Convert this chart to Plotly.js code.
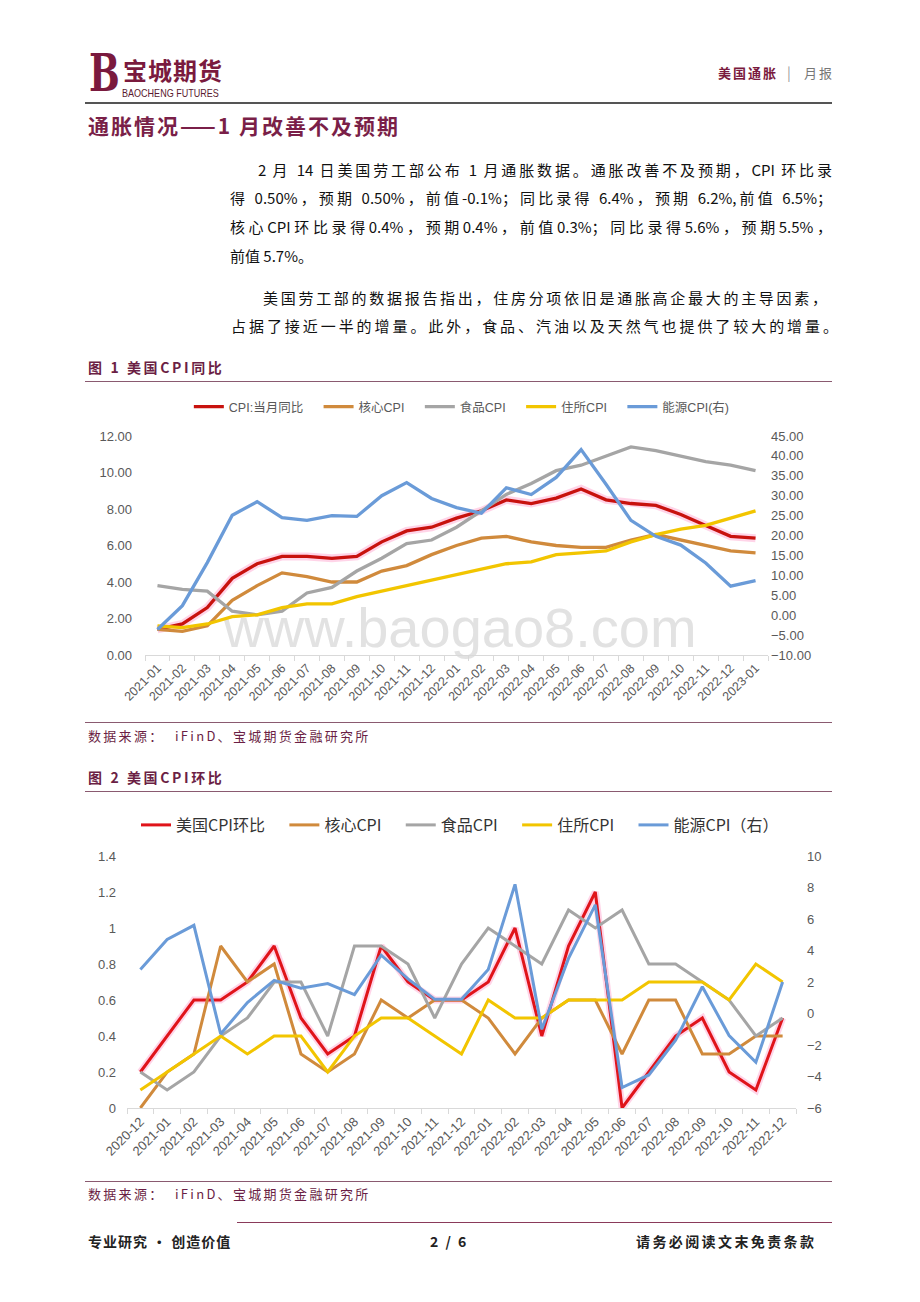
<!DOCTYPE html>
<html><head><meta charset="utf-8">
<script src="https://cdn.plot.ly/plotly-3.0.1.min.js"></script>
<style>
body{margin:0;background:#fff;width:920px;height:1302px;position:relative;overflow:hidden;font-family:"Noto Sans CJK SC",sans-serif;}
.abs{position:absolute;white-space:nowrap;}
.hl{position:absolute;height:0;}
.pl{position:absolute;font-size:15px;line-height:20px;height:20px;color:#111;text-align:justify;text-align-last:justify;overflow:visible;}
.cap{position:absolute;left:88px;font-size:14px;font-weight:700;color:#6b1f45;letter-spacing:2.6px;line-height:18px;}
.src{position:absolute;left:88px;font-size:13px;color:#6b1f45;letter-spacing:2.3px;line-height:18px;}
#wm{position:absolute;left:0;width:920px;text-align:center;top:600px;font-family:"Liberation Sans",Arial,sans-serif;font-size:56px;line-height:56px;color:#e2e2e2;}
.chart{position:absolute;left:0;width:920px;}
</style></head><body>
<!-- header -->
<div class="abs" style="left:89px;top:45px;font-family:'DejaVu Serif',serif;font-weight:700;font-size:52px;line-height:56px;color:#7a1a3e;transform:scaleX(0.7);transform-origin:left center;">B</div>
<div class="abs" style="left:123px;top:55px;font-size:24px;line-height:30px;font-weight:700;color:#7a1a3e;letter-spacing:1px;">宝城期货</div>
<div class="abs" style="left:122px;top:87px;font-family:'Liberation Sans',sans-serif;font-size:10.5px;line-height:12px;color:#5a1a30;transform:scaleX(0.86);transform-origin:left center;">BAOCHENG FUTURES</div>
<div class="abs" style="left:718px;top:64px;font-size:13px;line-height:18px;font-weight:700;color:#7a1a3e;letter-spacing:2px;">美国通胀</div>
<div class="abs" style="left:787px;top:63px;font-size:14px;line-height:18px;color:#999;">|</div>
<div class="abs" style="left:804px;top:64px;font-size:13px;line-height:18px;color:#777;letter-spacing:2px;">月报</div>
<div class="hl" style="left:85px;top:102px;width:747px;border-top:2px solid #555;"></div>
<div class="abs" style="left:88px;top:112px;font-size:21px;line-height:26px;font-weight:700;color:#7a1f48;letter-spacing:2px;">通胀情况——1 月改善不及预期</div>
<!-- paragraphs -->
<div class="pl" style="left:258px;width:574px;top:160px;">2 月 14 日美国劳工部公布 1 月通胀数据。通胀改善不及预期，CPI 环比录</div>
<div class="pl" style="left:230px;width:602px;top:188px;">得 0.50%，预期 0.50%，前值-0.1%；同比录得 6.4%，预期 6.2%,前值 6.5%；</div>
<div class="pl" style="left:230px;width:602px;top:217px;">核心CPI环比录得0.4%，预期0.4%，前值0.3%；同比录得5.6%，预期5.5%，</div>
<div class="pl" style="left:230px;top:246px;text-align:left;text-align-last:left;white-space:nowrap;">前值 5.7%。</div>
<div class="pl" style="left:263px;width:564px;top:288px;">美国劳工部的数据报告指出，住房分项依旧是通胀高企最大的主导因素，</div>
<div class="pl" style="left:231px;width:607px;top:316px;">占据了接近一半的增量。此外，食品、汽油以及天然气也提供了较大的增量。</div>
<!-- chart 1 -->
<div class="cap" style="top:358px;">图 1 美国CPI同比</div>
<div class="hl" style="left:85px;top:381px;width:747px;border-top:1px solid #8a5a70;"></div>
<div id="wm">www.baogao8.com</div>
<div id="c1" class="chart" style="top:395px;height:325px;"></div>
<div class="hl" style="left:85px;top:722px;width:747px;border-top:1px solid #8a5a70;"></div>
<div class="src" style="top:727px;">数据来源：&nbsp;&nbsp;iFinD、宝城期货金融研究所</div>
<!-- chart 2 -->
<div class="cap" style="top:768px;">图 2 美国CPI环比</div>
<div class="hl" style="left:85px;top:791px;width:747px;border-top:1px solid #8a5a70;"></div>
<div id="c2" class="chart" style="top:800px;height:375px;"></div>
<div class="hl" style="left:85px;top:1181px;width:747px;border-top:1px solid #8a5a70;"></div>
<div class="src" style="top:1185px;">数据来源：&nbsp;&nbsp;iFinD、宝城期货金融研究所</div>
<!-- footer -->
<div class="hl" style="left:237px;top:1222px;width:595px;border-top:1px solid #8a3a5a;"></div>
<div class="abs" style="left:88px;top:1231px;font-size:14px;line-height:20px;font-weight:700;color:#222;letter-spacing:1px;">专业研究 • 创造价值</div>
<div class="abs" style="left:430px;top:1231px;font-size:14px;line-height:20px;font-weight:700;color:#222;letter-spacing:2px;">2 / 6</div>
<div class="abs" style="left:636px;top:1231px;font-size:14px;line-height:20px;font-weight:700;color:#222;letter-spacing:2.4px;">请务必阅读文末免责条款</div>
<script>
// ---------- Chart 1 data (YoY, %) ----------
const months1 = ['2021-01','2021-02','2021-03','2021-04','2021-05','2021-06','2021-07','2021-08','2021-09','2021-10','2021-11','2021-12','2022-01','2022-02','2022-03','2022-04','2022-05','2022-06','2022-07','2022-08','2022-09','2022-10','2022-11','2022-12','2023-01'];
const cpiYoY     = [1.4,1.7,2.6,4.2,5.0,5.4,5.4,5.3,5.4,6.2,6.8,7.0,7.5,7.9,8.5,8.3,8.6,9.1,8.5,8.3,8.2,7.7,7.1,6.5,6.4];
const coreYoY    = [1.4,1.3,1.6,3.0,3.8,4.5,4.3,4.0,4.0,4.6,4.9,5.5,6.0,6.4,6.5,6.2,6.0,5.9,5.9,6.3,6.6,6.3,6.0,5.7,5.6];
const foodYoY    = [3.8,3.6,3.5,2.4,2.2,2.4,3.4,3.7,4.6,5.3,6.1,6.3,7.0,7.9,8.8,9.4,10.1,10.4,10.9,11.4,11.2,10.9,10.6,10.4,10.1];
const shelterYoY = [1.6,1.5,1.7,2.1,2.2,2.6,2.8,2.8,3.2,3.5,3.8,4.1,4.4,4.7,5.0,5.1,5.5,5.6,5.7,6.2,6.6,6.9,7.1,7.5,7.9];
const energyYoY  = [-3.6,2.4,13.2,25.1,28.5,24.5,23.8,25.0,24.8,30.0,33.3,29.3,27.0,25.6,32.0,30.3,34.6,41.6,32.9,23.8,19.8,17.6,13.1,7.3,8.7];
const names1 = ['CPI:当月同比','核心CPI','食品CPI','住所CPI','能源CPI(右)'];

// ---------- Chart 2 data (MoM, %) ----------
const months2 = ['2020-12','2021-01','2021-02','2021-03','2021-04','2021-05','2021-06','2021-07','2021-08','2021-09','2021-10','2021-11','2021-12','2022-01','2022-02','2022-03','2022-04','2022-05','2022-06','2022-07','2022-08','2022-09','2022-10','2022-11','2022-12'];
const cpiMoM     = [0.2,0.4,0.6,0.6,0.7,0.9,0.5,0.3,0.4,0.9,0.7,0.6,0.6,0.7,1.0,0.4,0.9,1.2,0.0,0.2,0.4,0.5,0.2,0.1,0.5];
const coreMoM    = [0.0,0.2,0.3,0.9,0.7,0.8,0.3,0.2,0.3,0.6,0.5,0.6,0.6,0.5,0.3,0.5,0.6,0.6,0.3,0.6,0.6,0.3,0.3,0.4,0.4];
const foodMoM    = [0.2,0.1,0.2,0.4,0.5,0.7,0.7,0.4,0.9,0.9,0.8,0.5,0.8,1.0,0.9,0.8,1.1,1.0,1.1,0.8,0.8,0.7,0.6,0.4,0.5];
const shelterMoM = [0.1,0.2,0.3,0.4,0.3,0.4,0.4,0.2,0.4,0.5,0.5,0.4,0.3,0.6,0.5,0.5,0.6,0.6,0.6,0.7,0.7,0.7,0.6,0.8,0.7];
const energyMoM  = [2.8,4.7,5.6,-1.3,0.7,2.1,1.6,1.9,1.2,3.7,2.2,0.9,0.9,2.8,8.2,-1.0,3.5,6.9,-4.7,-3.9,-1.7,1.7,-1.4,-3.1,2.0];
const names2 = ['美国CPI环比','核心CPI','食品CPI','住所CPI','能源CPI（右）'];

const colors = {red1:'#C8120E', red2:'#E0141A', orange:'#D08A3C', gray:'#A5A5A5', yellow:'#F2C500', blue:'#6A9BD8'};
const glow = 'rgba(255,160,205,0.45)';
const numFont = '"Liberation Sans Narrow","Liberation Sans","Noto Sans CJK SC",sans-serif';
const cjkFont = '"Noto Sans CJK SC",sans-serif';
const pad1 = '\u00a0\u00a0\u00a0';
const pad2 = '\u00a0\u00a0\u00a0\u00a0';

function ln(x, y, name, color, w, axis, show=true){
  return {x:x, y:y, name:name, type:'scatter', mode:'lines', yaxis:axis||'y',
    line:{color:color, width:w}, showlegend:show, hoverinfo:'skip'};
}

const t1 = [
  ln(months1, cpiYoY, '', glow, 8, 'y', false),
  ln(months1, cpiYoY, names1[0]+pad1, colors.red1, 3.3),
  ln(months1, coreYoY, names1[1]+pad1, colors.orange, 3.3),
  ln(months1, foodYoY, names1[2]+pad1, colors.gray, 3.3),
  ln(months1, shelterYoY, names1[3]+pad1, colors.yellow, 3.3),
  ln(months1, energyYoY, names1[4], colors.blue, 3.3, 'y2')
];
const axTick = {size:13, color:'#595959', family:numFont};
const l1 = {
  width:920, height:325,
  margin:{l:145, r:151.5, t:41, b:65},
  paper_bgcolor:'rgba(0,0,0,0)', plot_bgcolor:'rgba(0,0,0,0)',
  font:{family:cjkFont},
  showlegend:true,
  legend:{orientation:'h', xref:'container', yref:'container', x:0.502, xanchor:'center', y:1-12/325, yanchor:'middle',
    font:{size:12.5, color:'#595959', family:numFont}, bgcolor:'rgba(0,0,0,0)', traceorder:'normal'},
  xaxis:{type:'category', range:[-0.5,24.5], tickangle:-45, tickson:'boundaries', ticks:'outside',
    ticklen:5, tickcolor:'#d9d9d9', showline:true, linecolor:'#d9d9d9', linewidth:1, showgrid:false,
    tickfont:{size:12.5, color:'#595959', family:numFont}},
  yaxis:{range:[0,12], dtick:2, tickformat:'.2f', showgrid:false, zeroline:false, showline:false,
    tickfont:axTick, ticklabelstandoff:12},
  yaxis2:{overlaying:'y', side:'right', range:[-10,45], dtick:5, tickformat:'.2f', showgrid:false,
    zeroline:false, showline:false, tickfont:axTick, ticklabelstandoff:2}
};
Plotly.newPlot('c1', t1, l1, {staticPlot:true});

const t2 = [
  ln(months2, cpiMoM, '', glow, 7, 'y', false),
  ln(months2, cpiMoM, names2[0]+pad2, colors.red2, 3),
  ln(months2, coreMoM, names2[1]+pad2, colors.orange, 3),
  ln(months2, foodMoM, names2[2]+pad2, colors.gray, 3),
  ln(months2, shelterMoM, names2[3]+pad2, colors.yellow, 3),
  ln(months2, energyMoM, names2[4], colors.blue, 3, 'y2')
];
const axTick2 = {size:13, color:'#595959', family:numFont};
const l2 = {
  width:920, height:375,
  margin:{l:127, r:123.5, t:56, b:67},
  paper_bgcolor:'rgba(0,0,0,0)', plot_bgcolor:'rgba(0,0,0,0)',
  font:{family:cjkFont},
  showlegend:true,
  legend:{orientation:'h', xref:'container', yref:'container', x:0.5, xanchor:'center', y:1-25/375, yanchor:'middle',
    font:{size:16, color:'#333333', family:cjkFont}, bgcolor:'rgba(0,0,0,0)', traceorder:'normal'},
  xaxis:{type:'category', range:[-0.5,24.5], tickangle:-45, tickson:'boundaries', ticks:'outside',
    ticklen:5, tickcolor:'#d9d9d9', showline:true, linecolor:'#d9d9d9', linewidth:1, showgrid:false,
    tickfont:{size:13, color:'#595959', family:'"Liberation Sans",sans-serif'}},
  yaxis:{range:[0,1.4], dtick:0.2, showgrid:false, zeroline:false, showline:false,
    tickfont:axTick2, ticklabelstandoff:10},
  yaxis2:{overlaying:'y', side:'right', range:[-6,10], dtick:2, showgrid:false,
    zeroline:false, showline:false, tickfont:axTick2, ticklabelstandoff:10}
};
Plotly.newPlot('c2', t2, l2, {staticPlot:true});
</script>
</body></html>
